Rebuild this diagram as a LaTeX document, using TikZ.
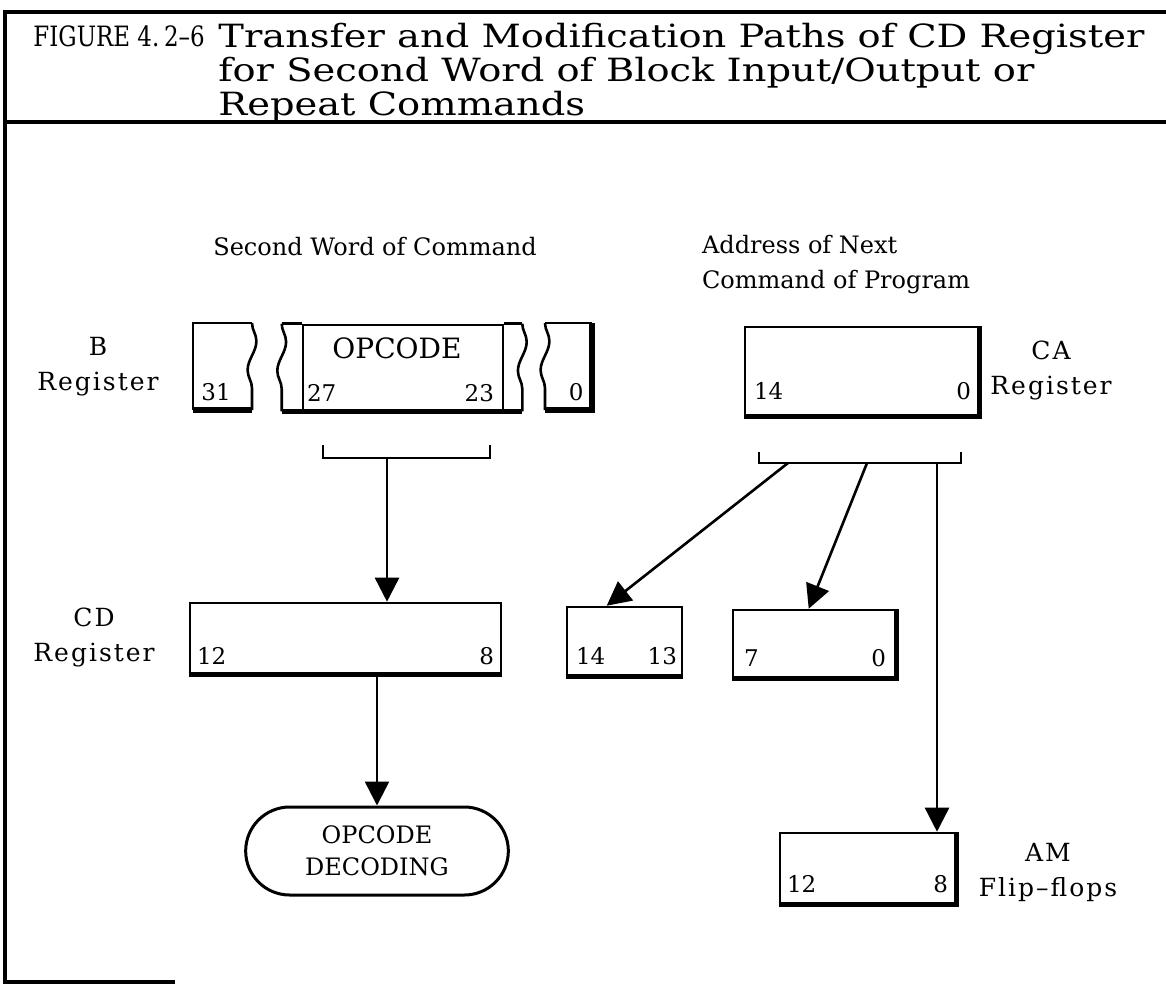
\documentclass[tikz,border=0pt]{standalone}
\usepackage{fontspec}
\setmainfont{DejaVu Serif}
\newfontfamily\headfont[FakeStretch=1.2, Ligatures=TeX]{DejaVu Serif}
\newfontfamily\fignumfont[FakeStretch=0.82, Ligatures=TeX]{DejaVu Serif}
\newfontfamily\spacedfont[LetterSpace=8, Ligatures=TeX]{DejaVu Serif}
\usetikzlibrary{positioning,arrows.meta,shapes.misc,fit,calc,decorations.pathmorphing}

\begin{document}
\begin{tikzpicture}[
  x=0.5pt, y=-0.5pt,
  font=\fontsize{12}{17.5}\selectfont,
  frame/.style={line width=1.6pt},
  reg/.style={draw, line width=1.3pt, inner sep=0pt},
  regline/.style={line width=1.3pt},
  heavy/.style={line width=2.6pt},
  torn/.style={line width=1.3pt, decorate, decoration={snake, amplitude=2.2pt, segment length=29pt}},
  bit/.style={font=\fontsize{11.5}{13}\selectfont, inner sep=0pt},
  regname/.style={align=center, inner sep=0pt, font=\spacedfont\fontsize{12.5}{17.5}\selectfont},
  titletext/.style={font=\headfont\fontsize{16}{17}\selectfont, inner sep=0pt, anchor=north west, align=left},
  flow/.style={-{Triangle[length=12pt,width=12pt]}, line width=1.3pt},
  decode/.style={rounded rectangle, draw, line width=1.5pt, align=center,
    minimum width=138pt, minimum height=44pt, font=\fontsize{12}{16}\selectfont}
]
\useasboundingbox (0,0) rectangle (1166,985);

% --- frame and title ---
\draw[frame] (1166,12) -- (5,12) -- (5,982) -- (175,982);
\draw[frame] (5,122) -- (1166,122);
\node[titletext, font=\fignumfont\fontsize{14}{17}\selectfont] (fignum) at (33,25) {FIGURE 4.\,2--6};
\node[titletext] (figtitle) at (218,23) {Transfer and Modification Paths of CD Register\\for Second Word of Block Input/Output or\\Repeat Commands};

% --- headings ---
\node (secword) at (375,247) {Second Word of Command};
\node[anchor=west, align=left] (nextaddr) at (695,265) {Address of Next\\Command of Program};

% --- B register ---
\node[regname] (bname) at (98,367) {B\\Register};
\draw[regline] (252,323) -- (193,323) -- (193,410);
\draw[heavy] (193,410) -- (252,410);
\draw[torn] (252,323) -- (252,410);
\node[reg, fit={(303,325) (503,410)}] (opc) {};
\node[font=\fontsize{14}{16}\selectfont] (opcname) at (397,348) {OPCODE};
\draw[regline] (opc.north west) -- ++(-20,0) coordinate (opctl);
\draw[regline] (opc.north east) -- ++(18,0) coordinate (opctr);
\coordinate (opcbl) at ($(opc.south west)+(-20,0)$);
\coordinate (opcbr) at ($(opc.south east)+(18,0)$);
\draw[torn] (opctl) -- (opcbl);
\draw[torn] (opctr) -- (opcbr);
\draw[heavy] (opcbl) -- (opcbr);
\draw[regline] (545,323) -- (592,323);
\draw[heavy] (545,410) -- (592,410) -- (592,323);
\draw[torn] (545,323) -- (545,410);
\node[bit, anchor=base west] (b31) at (201,400) {31};
\node[bit, anchor=base west] (b27) at ($(opc.south west)+(5,-10)$) {27};
\node[bit, anchor=base east] (b23) at ($(opc.south east)+(-10,-10)$) {23};
\node[bit, anchor=base east] (b0) at (584,400) {0};
\draw[regline] (323,445) -- (323,458) -- (490,458) -- (490,445);
\coordinate (bsel) at (387,458);

% --- CA register ---
\node[reg, fit={(745,327) (978,415)}] (ca) {};
\draw[heavy] (ca.south west) -- (ca.south east) -- (ca.north east);
\node[bit, anchor=base west] (ca14) at ($(ca.south west)+(10,-17)$) {14};
\node[bit, anchor=base east] (ca0) at ($(ca.south east)+(-8,-17)$) {0};
\node[regname] (caname) at (1051,370) {CA\\Register};
\draw[regline] (759,452) -- (759,463) -- (961,463) -- (961,452);
\coordinate (casel1) at (788,463);
\coordinate (casel2) at (867,463);
\coordinate (casel3) at (937,463);

% --- CD register and its sources ---
\node[reg, fit={(190,603) (501,673)}] (cd) {};
\draw[heavy] (cd.south west) -- (cd.south east);
\node[bit, anchor=base west] (cd12) at ($(cd.south west)+(8,-10)$) {12};
\node[bit, anchor=base east] (cd8) at ($(cd.south east)+(-8,-10)$) {8};
\node[regname] (cdname) at (94,637) {CD\\Register};

\node[reg, fit={(567,607) (682,675)}] (hi) {};
\draw[heavy] (hi.south west) -- (hi.south east);
\node[bit, anchor=base west] (hi14) at ($(hi.south west)+(10,-12)$) {14};
\node[bit, anchor=base east] (hi13) at ($(hi.south east)+(-6,-12)$) {13};

\node[reg, fit={(733,610) (895,677)}] (lo) {};
\draw[heavy] (lo.south west) -- (lo.south east) -- (lo.north east);
\node[bit, anchor=base west] (lo7) at ($(lo.south west)+(12,-12)$) {7};
\node[bit, anchor=base east] (lo0) at ($(lo.south east)+(-10,-12)$) {0};

% --- decoding and AM flip-flops ---
\node[decode] (dec) at (377,851) {OPCODE\\DECODING};

\node[reg, fit={(780,833) (955,903)}] (am) {};
\draw[heavy] (am.south west) -- (am.south east) -- (am.north east);
\node[bit, anchor=base west] (am12) at ($(am.south west)+(8,-12)$) {12};
\node[bit, anchor=base east] (am8) at ($(am.south east)+(-8,-12)$) {8};
\node[regname] (amname) at (1048,872) {AM\\Flip--flops};

% --- transfer paths ---
\coordinate (hitip) at ($(hi.north west)+(41,0)$);
\coordinate (lotip) at ($(lo.north west)+(77,0)$);
\draw[flow] (bsel) -- (bsel |- cd.north);
\draw[flow] (dec.north |- cd.south) -- (dec.north);
\draw[flow] (casel1) -- (hitip);
\draw[flow] (casel2) -- (lotip);
\draw[flow] (casel3) -- (casel3 |- am.north);

\end{tikzpicture}
\end{document}
